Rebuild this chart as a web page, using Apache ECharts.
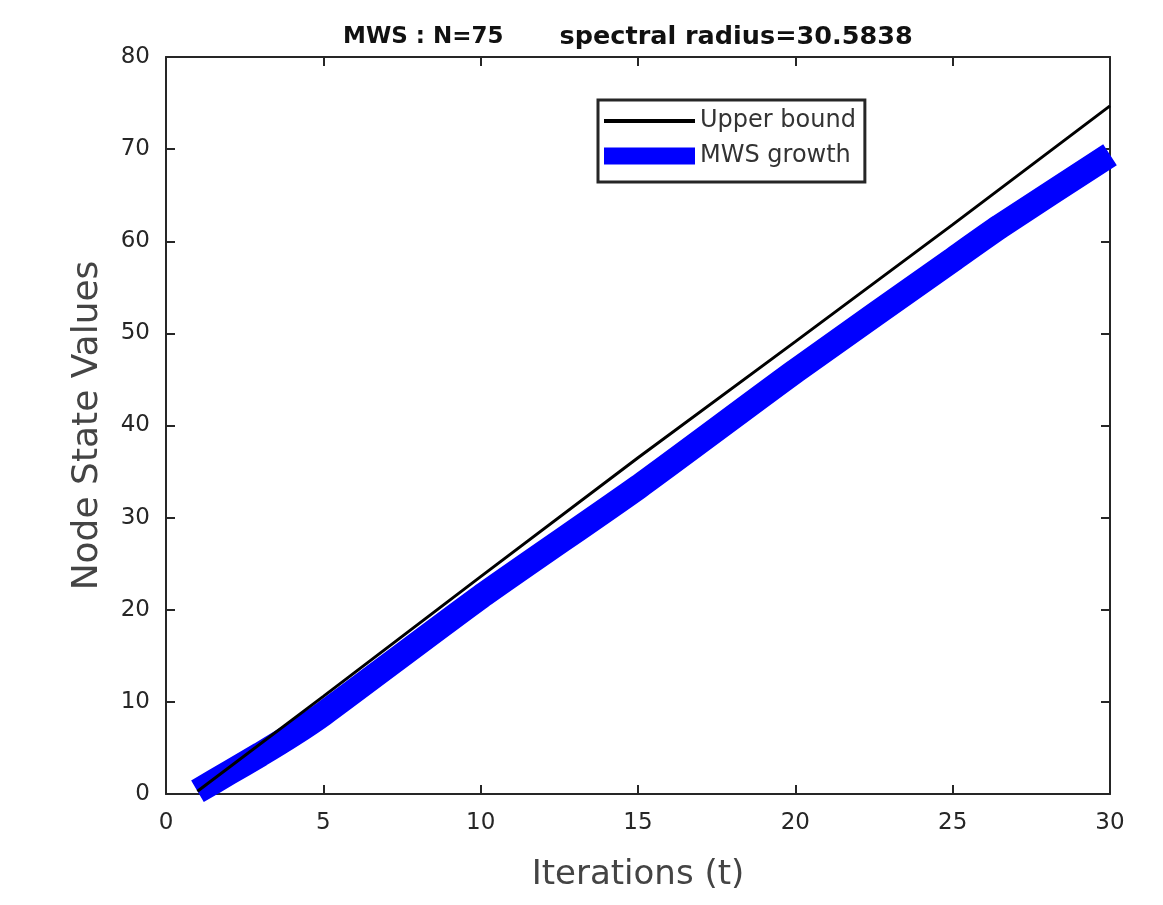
<!DOCTYPE html>
<html>
<head>
<meta charset="utf-8">
<script src="https://cdn.jsdelivr.net/npm/echarts@6/dist/echarts.min.js"></script>
<style>
  html, body { margin: 0; padding: 0; background: #fff; }
  #chart { width: 1163px; height: 905px; }
</style>
</head>
<body>
<div id="chart"></div>
<script>
// values
const xTicks = [0, 5, 10, 15, 20, 25, 30]
const yTicks = [0, 10, 20, 30, 40, 50, 60, 70, 80]

const boundT = [1, 5, 10, 15, 20, 25, 30]
const boundV = [0.3, 10.6, 23.6, 36.5, 49.1, 61.8, 74.7]

const growthT = [1, 2, 3, 4, 5, 10, 15, 20, 25, 26.5, 30]
const growthV = [0.3, 2.3, 4.3, 6.4, 8.7, 21.4, 33.3, 45.9, 58.0, 61.6, 69.4]

const seriesNames = ['Upper bound', 'MWS growth']
const titleLeft = 'MWS : N=75'
const titleRight = 'spectral radius=30.5838'

const pairs = (xs, ys) => xs.map((x, i) => [x, ys[i]])

const axisColor = '#262626'
const font = 'DejaVu Sans, Liberation Sans, sans-serif'

const chart = echarts.init(document.getElementById('chart'))

const baseX = {
  type: 'value',
  min: xTicks[0],
  max: xTicks[xTicks.length - 1],
  interval: 5,
  splitLine: { show: false },
  axisLine: { show: true, onZero: false, lineStyle: { color: axisColor, width: 2 } },
  axisTick: { show: true, inside: true, length: 9, lineStyle: { color: axisColor, width: 2 } }
}
const baseY = {
  type: 'value',
  min: yTicks[0],
  max: yTicks[yTicks.length - 1],
  interval: 10,
  splitLine: { show: false },
  axisLine: { show: true, onZero: false, lineStyle: { color: axisColor, width: 2 } },
  axisTick: { show: true, inside: true, length: 9, lineStyle: { color: axisColor, width: 2 } }
}

chart.setOption({
  backgroundColor: '#fff',
  animation: false,
  title: {
    text: '{a|' + titleLeft + '}       {b|' + titleRight + '}',
    left: 338,
    top: 19,
    textStyle: {
      fontFamily: font, fontSize: 23, fontWeight: 'bold', color: '#111',
      rich: {
        a: { fontFamily: font, fontSize: 23, fontWeight: 'bold', color: '#111' },
        b: { fontFamily: font, fontSize: 25.5, fontWeight: 'bold', color: '#111' }
      }
    }
  },
  grid: { left: 166, right: 53, top: 57, bottom: 111 },
  legend: {
    orient: 'vertical',
    left: 598,
    top: 100,
    itemWidth: 91,
    itemHeight: 17,
    itemGap: 11,
    padding: [9, 9, 14, 6],
    borderColor: axisColor,
    borderWidth: 3,
    backgroundColor: '#fff',
    textStyle: { fontFamily: font, fontSize: 24, color: '#333' },
    data: [
      { name: seriesNames[0], icon: 'path://M0,0M0,17M0,6.5L91,6.5L91,10.5L0,10.5Z' },
      { name: seriesNames[1], icon: 'rect' }
    ]
  },
  xAxis: [
    Object.assign({}, baseX, {
      position: 'bottom',
      name: 'Iterations (t)',
      nameLocation: 'middle',
      nameGap: 64,
      nameTextStyle: { fontFamily: font, fontSize: 34, color: '#444' },
      axisLabel: { fontFamily: font, fontSize: 23, color: axisColor, margin: 18 }
    }),
    Object.assign({}, baseX, { position: 'top', axisLabel: { show: false } })
  ],
  yAxis: [
    Object.assign({}, baseY, {
      position: 'left',
      name: 'Node State Values',
      nameLocation: 'middle',
      nameGap: 60,
      nameTextStyle: { fontFamily: font, fontSize: 36, color: '#444' },
      axisLabel: { fontFamily: font, fontSize: 23, color: axisColor, margin: 16 }
    }),
    Object.assign({}, baseY, { position: 'right', axisLabel: { show: false } })
  ],
  series: [
    {
      name: seriesNames[1],
      type: 'line',
      data: pairs(growthT, growthV),
      smooth: 0.2,
      symbol: 'none',
      clip: false,
      lineStyle: { color: '#0000ff', width: 25 },
      itemStyle: { color: '#0000ff' },
      z: 2
    },
    {
      name: seriesNames[0],
      type: 'line',
      data: pairs(boundT, boundV),
      symbol: 'none',
      lineStyle: { color: '#000', width: 3 },
      itemStyle: { color: '#000' },
      z: 3
    }
  ]
})
</script>
</body>
</html>
